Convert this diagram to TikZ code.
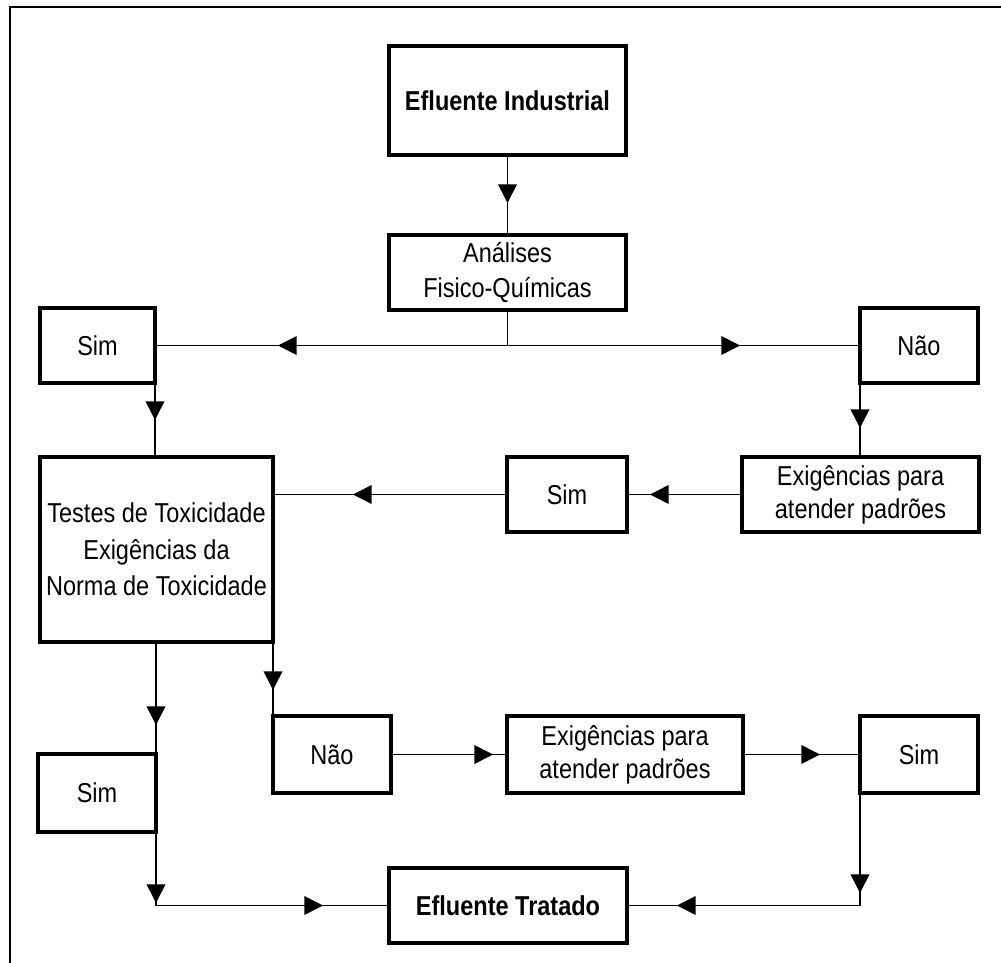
\documentclass[tikz,border=0pt]{standalone}
\usepackage{fontspec}
\setmainfont{Liberation Sans}[FakeStretch=0.86]
\usetikzlibrary{arrows.meta,decorations.markings}
\begin{document}
\begin{tikzpicture}[x=0.75pt,y=-0.75pt,
  >={Triangle[length=14pt,width=14pt]},
  box/.style={draw, line width=2.3pt, inner sep=0pt, outer sep=0pt, align=center,
    font=\fontsize{20.5}{26}\selectfont},
  conn/.style={line width=1.2pt},
  mk/.style={postaction={decorate,decoration={markings,mark=at position #1 with {\arrow{>}}}}}]
\useasboundingbox (0,0) rectangle (1001,963);
\clip (0,0) rectangle (1001,963);
\draw[line width=1.5pt] (10,980) -- (10,7) -- (1020,7);

\node[box, minimum width=237*0.75pt, minimum height=109*0.75pt] (ei) at (507.5,100.5) {\textbf{Efluente Industrial}};
\node[box, minimum width=237*0.75pt, minimum height=75*0.75pt, font=\fontsize{20.5}{26.25}\selectfont] (aq) at (507.5,272.5) {Análises\\Fisico-Químicas};
\node[box, minimum width=115*0.75pt, minimum height=75*0.75pt] (sim1) at (97.5,345.5) {Sim};
\node[box, minimum width=118*0.75pt, minimum height=75*0.75pt] (nao1) at (919,345.5) {Não};
\node[box, minimum width=237*0.75pt, minimum height=75*0.75pt, font=\fontsize{20.5}{24.75}\selectfont] (exig1) at (860.5,494.5) {Exigências para\\atender padrões};
\node[box, minimum width=120*0.75pt, minimum height=75*0.75pt] (sim2) at (567,494.5) {Sim};
\node[box, minimum width=233*0.75pt, minimum height=185*0.75pt, font=\fontsize{20.5}{27.5}\selectfont] (testes) at (156.5,549.5) {Testes de Toxicidade\\Exigências da\\Norma de Toxicidade};
\node[box, minimum width=118*0.75pt, minimum height=78*0.75pt] (sim3) at (97,793) {Sim};
\node[box, minimum width=118*0.75pt, minimum height=77*0.75pt] (nao2) at (332,754.5) {Não};
\node[box, minimum width=236*0.75pt, minimum height=77*0.75pt, font=\fontsize{20.5}{24.75}\selectfont] (exig2) at (625,754.5) {Exigências para\\atender padrões};
\node[box, minimum width=118*0.75pt, minimum height=77*0.75pt] (sim4) at (919,754.5) {Sim};
\node[box, minimum width=238*0.75pt, minimum height=75*0.75pt] (eft) at (508,905.5) {\textbf{Efluente Tratado}};

\draw[conn, mk=-24pt] (ei) -- (aq);
\draw[conn, mk=-92.25pt] (aq.south) |- (sim1.east);
\draw[conn, mk=-90pt] (aq.south) |- (nao1.west);
\draw[conn, mk=-27.75pt] (sim1.south east) -- (sim1.south east |- testes.north);
\draw[conn, mk=-21.75pt] (nao1.south west) -- (nao1.south west |- exig1.north);
\draw[conn, mk=-17.25pt] (exig1.west) -- (sim2.east);
\draw[conn, mk=-60pt] (sim2.west) -- (sim2.west -| testes.east);
\draw[conn, mk=-21.75pt] (testes.south -| sim3.north east) -- (sim3.north east);
\draw[conn, mk=53.25pt, mk=-49.5pt] (sim3.south east) |- (eft.west);
\draw[conn, mk=-19.5pt] (testes.south east) -- (nao2.north west);
\draw[conn, mk=-10.5pt] (nao2) -- (exig2);
\draw[conn, mk=-30pt] (exig2) -- (sim4);
\draw[conn, mk=75pt, mk=-37.5pt] (sim4.south west) |- (eft.east);
\end{tikzpicture}
\end{document}
